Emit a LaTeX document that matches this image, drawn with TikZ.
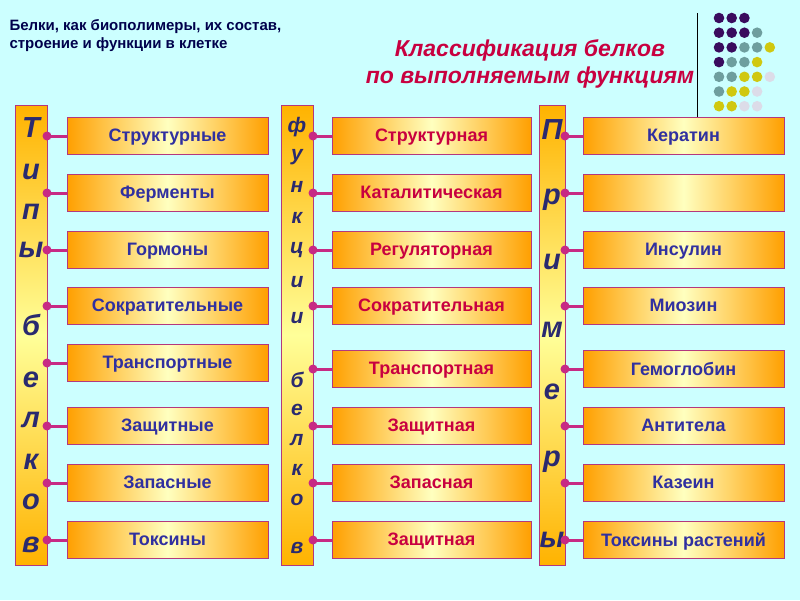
\documentclass[tikz,border=0pt]{standalone}
\usepackage{fontspec}
\setmainfont{Liberation Sans}
\definecolor{bgc}{HTML}{CCFFFF}
\definecolor{bluet}{HTML}{3030A0}
\definecolor{redt}{HTML}{C80040}
\begin{document}
\begin{tikzpicture}[x=1pt,y=-1pt,
  box/.style={draw=magenta!70!black, line width=0.8pt, left color=orange!75!yellow, right color=orange!75!yellow, middle color=yellow!25, minimum width=201pt, minimum height=37pt, inner sep=0pt, text depth=1pt, font=\fontsize{18}{18}\selectfont\bfseries},
  bar/.style={draw=magenta!70!black, line width=0.8pt, top color=orange!60!yellow, bottom color=orange!60!yellow, middle color=yellow!40},
  lt/.style={font=\fontsize{29}{29}\selectfont\bfseries\itshape, text=gray!55!blue!60!black},
  mt/.style={font=\fontsize{21}{21}\selectfont\bfseries\itshape, text=gray!55!blue!60!black},
  con/.style={draw=magenta!80!black, line width=3pt},
  dt/.style={circle, fill=magenta!80!black, inner sep=0pt, minimum size=9pt}]
\fill[bgc] (0,0) rectangle (800,600);
\useasboundingbox (0,0) rectangle (800,600);
\node[anchor=west, align=left, text=blue!30!black, font=\fontsize{15}{18}\selectfont\bfseries] (hdr) at (6,36) {Белки, как биополимеры, их состав,\\ строение и функции в клетке};
\node[align=center, text=redt, font=\fontsize{23}{27}\selectfont\bfseries\itshape] (title) at (530,64) {Классификация белков\\по выполняемым функциям};
\draw[black, line width=0.8pt] (697,13) -- (697,118);
\definecolor{dP}{HTML}{3A0C5E}\definecolor{dG}{HTML}{6E9E9E}\definecolor{dY}{HTML}{D0C810}\definecolor{dL}{HTML}{DCDCE8}
\foreach \r/\cl in {0/{dP,dP,dP},1/{dP,dP,dP,dG},2/{dP,dP,dG,dG,dY},3/{dP,dG,dG,dY},4/{dG,dG,dY,dY,dL},5/{dG,dY,dY,dL},6/{dY,dY,dL,dL}}{
  \foreach \c [count=\i from 0] in \cl { \fill[\c] (719+12.7*\i, 18+14.7*\r) circle (5.3); } }
% bars
\path[bar] (15,105) rectangle (47,565);
\path[bar] (281,105) rectangle (313,565);
\path[bar] (539,105) rectangle (565,565);
\foreach \l/\y in {Т/128,и/172,п/212,ы/250,б/325,е/380,л/420,к/462,о/502,в/545}{\node[lt] at (31,\y) {\l};}
\foreach \l/\y in {ф/127,у/157,н/187,к/218,ц/250,и/282,и/318,б/380,е/410,л/440,к/470,о/500,в/548}{\node[mt] at (297,\y) {\l};}
\foreach \l/\y in {П/130,р/200,и/262,м/330,е/392,р/462,ы/540}{\node[lt] at (552,\y) {\l};}
\foreach \t/\y [count=\n] in {Структурные/136,Ферменты/193,Гормоны/250,Сократительные/306,Транспортные/363,Защитные/426,Запасные/483,Токсины/540}{
  \node[box, text=bluet] (a\n) at (167.5,\y) {\t};
  \coordinate (ca\n) at (47,\y);
  \draw[con] (ca\n) -- (a\n.west); \node[dt] at (ca\n) {};}
\foreach \t/\y [count=\n] in {Структурная/136,Каталитическая/193,Регуляторная/250,Сократительная/306,Транспортная/369,Защитная/426,Запасная/483,Защитная/540}{
  \node[box, minimum width=199pt, text=redt] (b\n) at (431.5,\y) {\t};
  \coordinate (cb\n) at (313,\y);
  \draw[con] (cb\n) -- (b\n.west); \node[dt] at (cb\n) {};}
\foreach \t/\y [count=\n] in {Кератин/136,{}/193,Инсулин/250,Миозин/306,Гемоглобин/369,Антитела/426,Казеин/483,Токсины растений/540}{
  \node[box, text=bluet] (c\n) at (683.5,\y) {\t};
  \coordinate (cc\n) at (565,\y);
  \draw[con] (cc\n) -- (c\n.west); \node[dt] at (cc\n) {};}
\end{tikzpicture}
\end{document}
